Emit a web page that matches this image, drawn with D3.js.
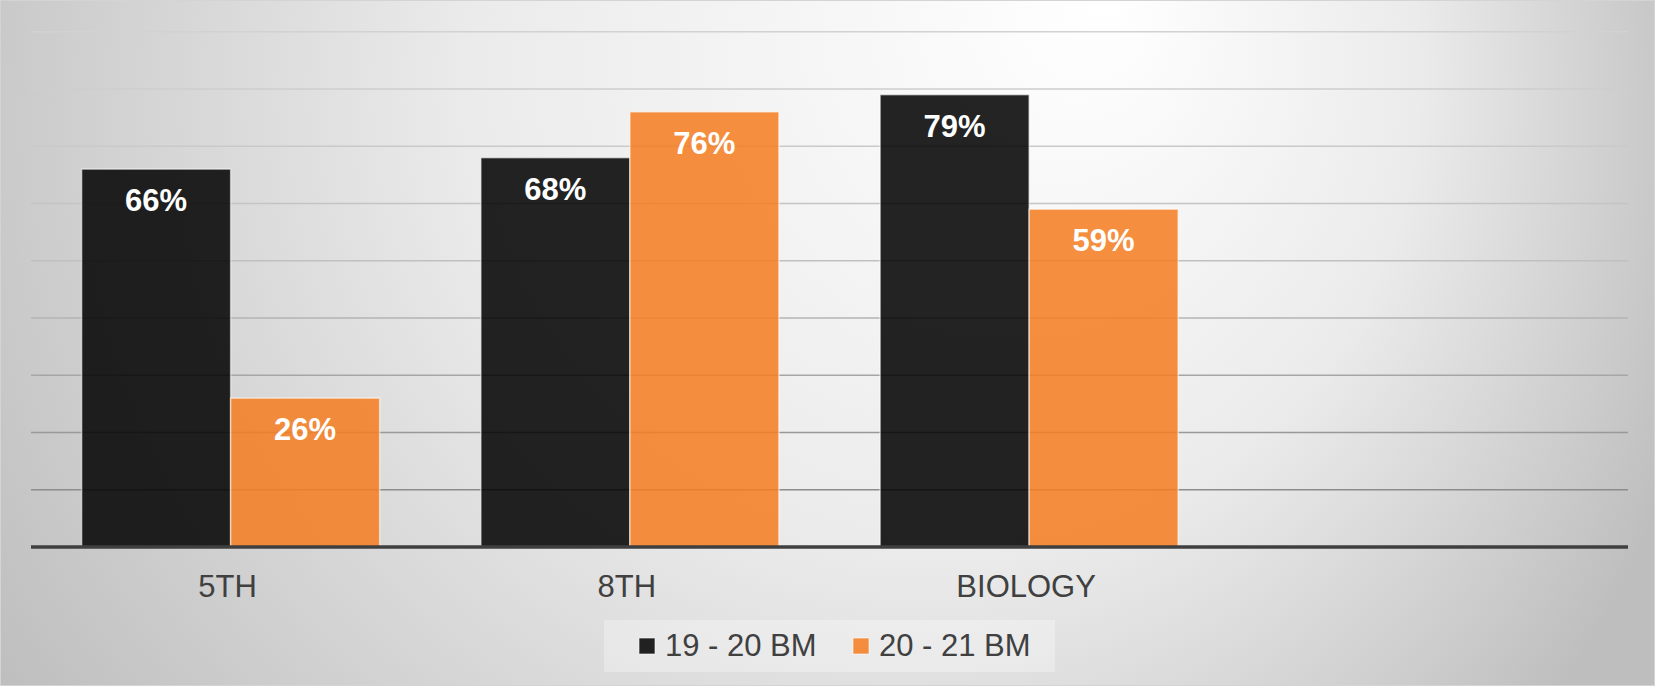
<!DOCTYPE html>
<html>
<head>
<meta charset="utf-8">
<script src="https://cdn.jsdelivr.net/npm/d3@7"></script>
<style>
  html, body { margin: 0; padding: 0; background: #ffffff; }
  svg { display: block; font-family: "Liberation Sans", Arial, sans-serif; }
</style>
</head>
<body>
<svg id="chart" width="1657" height="688"></svg>
<script>
// ---- data ----
const categories = ["5TH", "8TH", "BIOLOGY", ""];
const seriesNames = ["19 - 20 BM", "20 - 21 BM"];
const series1 = [0.66, 0.68, 0.79, null];
const series2 = [0.26, 0.76, 0.59, null];
const yTicks = [0, 0.1, 0.2, 0.3, 0.4, 0.5, 0.6, 0.7, 0.8, 0.9];
const seriesColors = ["#000000", "#f57d20"];

const W = 1657, H = 688;
const svg = d3.select("#chart");
const defs = svg.append("defs");

// background gradient
const rg = defs.append("radialGradient")
  .attr("id", "bg").attr("gradientUnits", "userSpaceOnUse")
  .attr("cx", 780).attr("cy", 150).attr("r", 950)
  .attr("fx", 1110).attr("fy", 0);
rg.append("stop").attr("offset", 0).attr("stop-color", "#ffffff");
rg.append("stop").attr("offset", 0.5).attr("stop-color", "#ebebeb");
rg.append("stop").attr("offset", 1).attr("stop-color", "#bebebe");

svg.append("rect").attr("x", 0.5).attr("y", 0.5).attr("width", 1654).attr("height", 685)
  .attr("fill", "url(#bg)").attr("stroke", "#d4d4d4").attr("stroke-width", 1);

// scales
const plotLeft = 31, plotRight = 1628;
const x = d3.scaleBand().domain(categories).range([plotLeft, plotRight])
  .paddingInner(0.2536).paddingOuter(0.1268);
const xs = d3.scaleBand().domain(seriesNames).range([0, x.bandwidth()]).padding(0);
const y = d3.scaleLinear().domain([0, 0.9]).range([547, 31.7]);
const gridColor = d3.scaleLinear().domain([32, 260, 489]).range(["#d2d2d2", "#c0c0c0", "#8c8c8c"]);

// gridlines
svg.append("g").selectAll("line")
  .data(yTicks.filter(d => d > 0))
  .join("line")
  .attr("x1", plotLeft).attr("x2", plotRight)
  .attr("y1", d => y(d)).attr("y2", d => y(d))
  .attr("stroke", d => gridColor(y(d)))
  .attr("stroke-width", 1.6);

// bars
const rows = [];
categories.forEach((c, i) => {
  [series1, series2].forEach((s, j) => {
    if (s[i] != null) rows.push({ cat: c, ser: seriesNames[j], v: s[i], j });
  });
});

svg.append("g").selectAll("rect")
  .data(rows)
  .join("rect")
  .attr("x", d => x(d.cat) + xs(d.ser))
  .attr("y", d => y(d.v))
  .attr("width", xs.bandwidth())
  .attr("height", d => y(0) - y(d.v))
  .attr("fill", d => seriesColors[d.j])
  .attr("fill-opacity", 0.86)
  .attr("stroke", "#ffffff")
  .attr("stroke-opacity", 0.55)
  .attr("stroke-width", 1.5);

// value labels
svg.append("g").selectAll("text")
  .data(rows)
  .join("text")
  .attr("x", d => x(d.cat) + xs(d.ser) + xs.bandwidth() / 2)
  .attr("y", d => y(d.v) + 42)
  .attr("text-anchor", "middle")
  .attr("font-size", 31)
  .attr("font-weight", "bold")
  .attr("fill", "#ffffff")
  .text(d => Math.round(d.v * 100) + "%");

// baseline axis
svg.append("line")
  .attr("x1", plotLeft).attr("x2", plotRight)
  .attr("y1", y(0)).attr("y2", y(0))
  .attr("stroke", "#3f3f3f").attr("stroke-width", 3.5);

// category labels
svg.append("g").selectAll("text")
  .data(categories)
  .join("text")
  .attr("x", d => x(d) + x.bandwidth() / 2 - 3)
  .attr("y", 597)
  .attr("text-anchor", "middle")
  .attr("font-size", 31)
  .attr("fill", "#404040")
  .text(d => d);

// legend
const lg = svg.append("g");
lg.append("rect").attr("x", 604).attr("y", 620).attr("width", 451).attr("height", 52)
  .attr("fill", "#ffffff").attr("fill-opacity", 0.3);
const legendX = [639, 853];
seriesNames.forEach((n, i) => {
  lg.append("rect").attr("x", legendX[i]).attr("y", 638).attr("width", 16).attr("height", 16)
    .attr("fill", seriesColors[i]).attr("fill-opacity", 0.86)
    .attr("stroke", "#ffffff").attr("stroke-opacity", 0.6).attr("stroke-width", 1);
  lg.append("text").attr("x", legendX[i] + 26).attr("y", 656)
    .attr("font-size", 31).attr("fill", "#404040").text(n);
});
</script>
</body>
</html>
